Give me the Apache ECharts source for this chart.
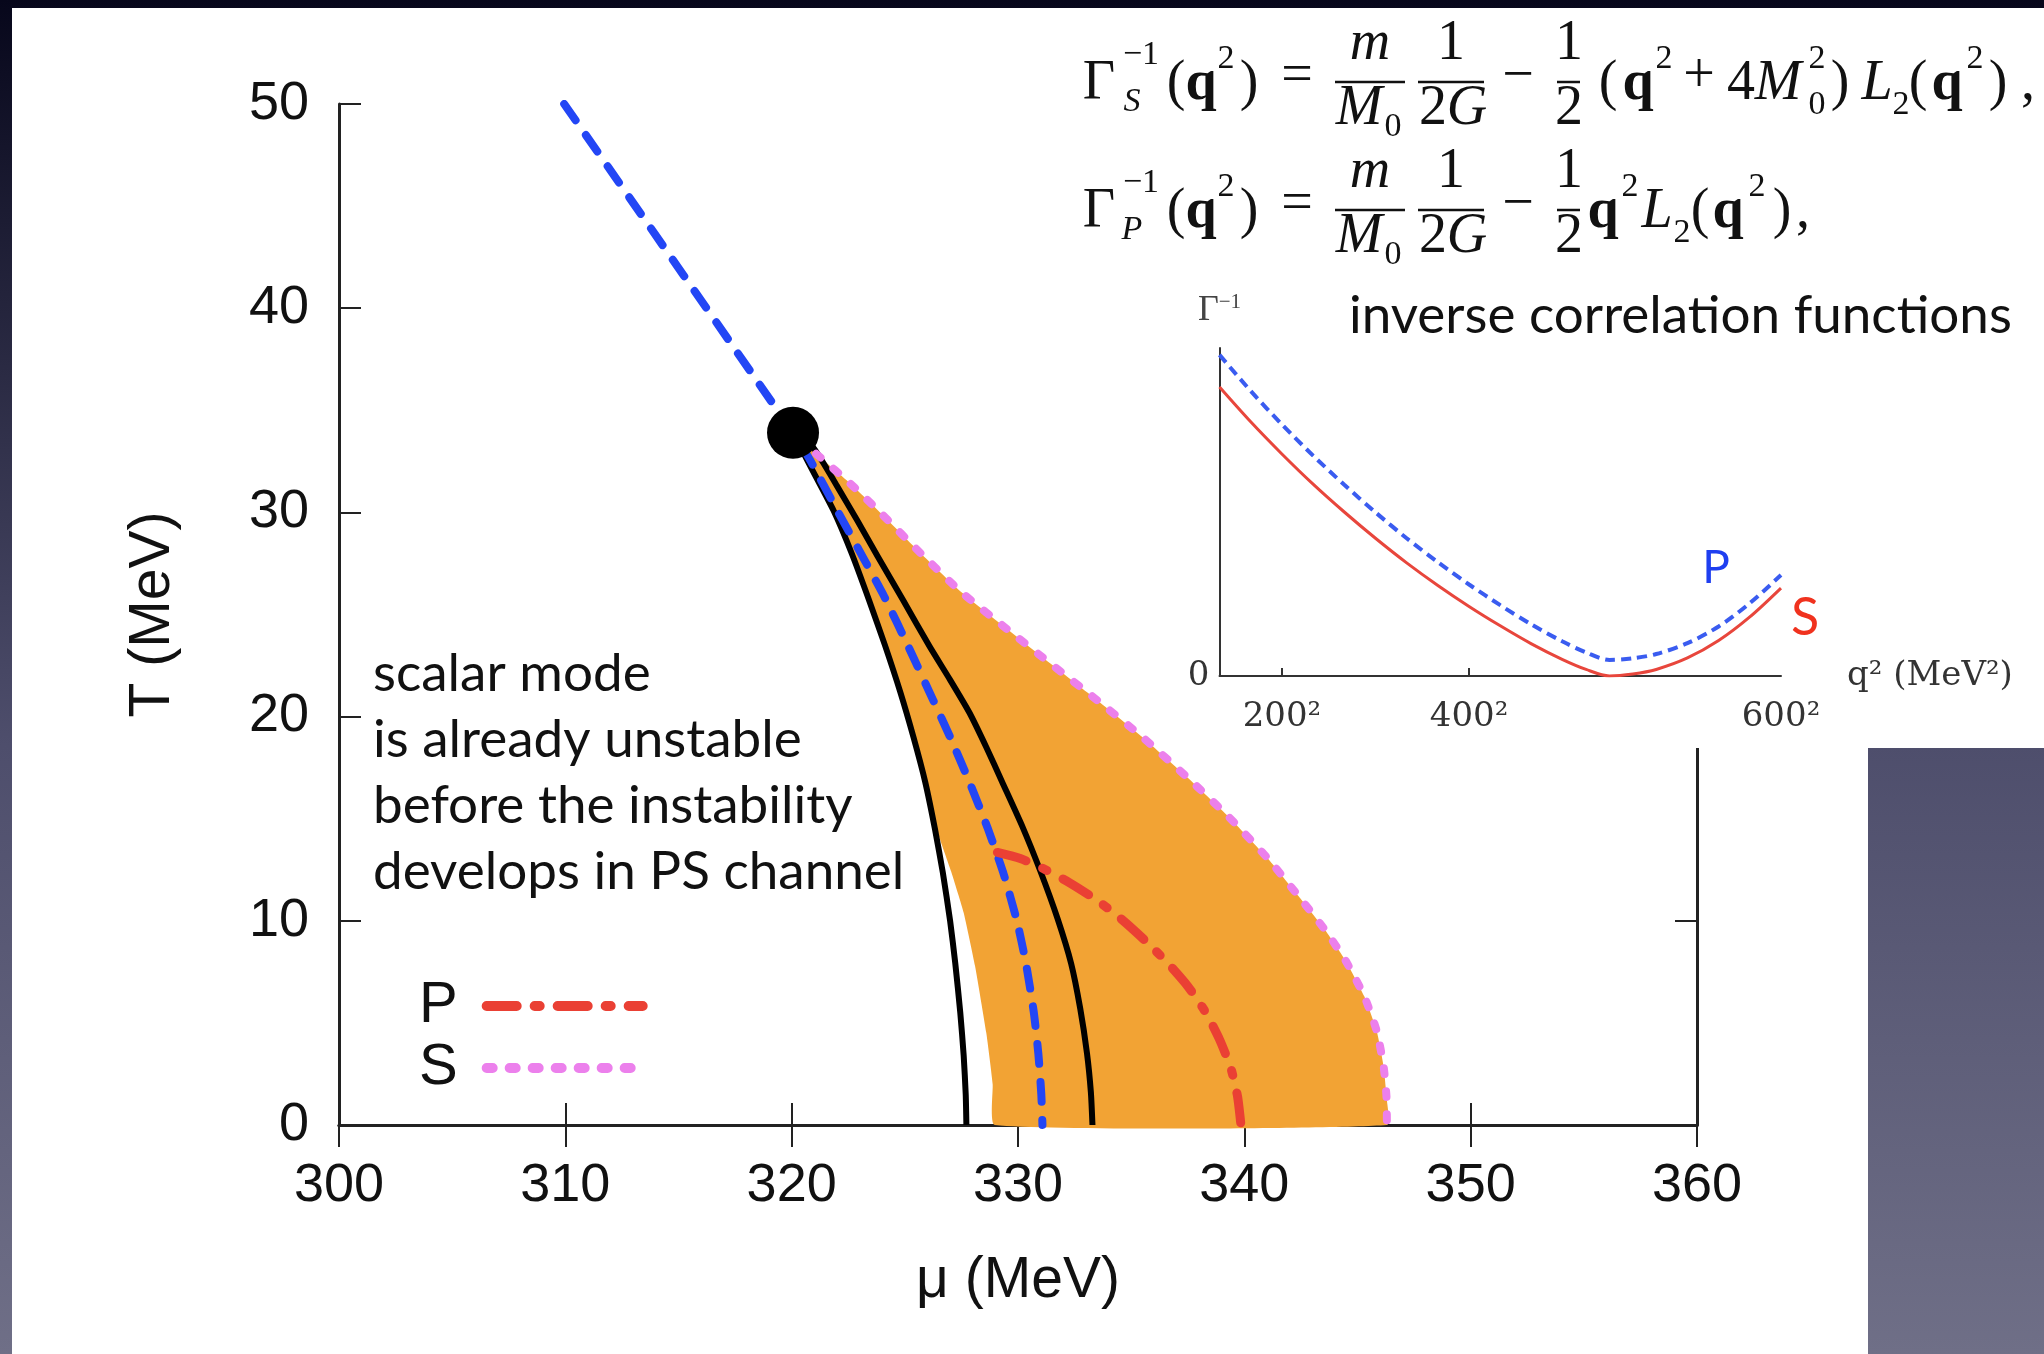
<!DOCTYPE html>
<html><head><meta charset="utf-8">
<script src="https://cdn.jsdelivr.net/npm/echarts@6/dist/echarts.min.js"></script>
<style>html,body{margin:0;padding:0;background:#fff;overflow:hidden}#c{width:2044px;height:1354px}</style>
</head><body><div id="c"></div>
<script>
// ---------- data (mu in MeV, T in MeV) ----------
const criticalPoint = [[320.06, 33.9]];
const blueLine = [[309.95,50],[320.06,33.9],[320.81,32.57],[322.0,30.12],[323.2,27.7],[324.1,25.86],[325.15,23.44],[326.25,20.81],[327.0,19.0],[327.85,16.8],[328.65,14.57],[329.35,12.35],[329.95,10.0],[330.35,7.92],[330.7,5.5],[330.9,3.48],[331.03,1.5],[331.08,0]];
const blackLeft = [[320.06,33.9],[320.95,32.0],[321.85,30.09],[322.65,28.0],[323.42,25.7],[324.12,23.5],[324.8,21.2],[325.38,19.0],[325.9,16.8],[326.33,14.5],[326.68,12.35],[327.0,10.0],[327.23,7.9],[327.45,5.5],[327.6,3.4],[327.69,1.5],[327.72,0]];
const blackRight = [[320.06,33.9],[320.94,33.2],[322.0,31.3],[322.9,29.6],[323.79,27.87],[324.92,25.71],[326.09,23.44],[327.0,21.8],[327.85,20.2],[328.6,18.5],[329.3,16.8],[330.2,14.6],[331.0,12.4],[331.75,10.1],[332.35,7.9],[332.75,5.7],[333.05,3.5],[333.22,1.6],[333.29,0]];
const pLine = [[329.09,13.35],[330.1,13.05],[331.09,12.57],[332.3,11.85],[333.5,11.0],[334.55,10.1],[335.6,9.05],[336.6,7.95],[337.5,6.8],[338.3,5.5],[338.9,4.2],[339.4,2.8],[339.7,1.4],[339.85,0]];
const sLine = [[320.3,33.6],[321.25,32.71],[322.6,31.4],[324.0,29.9],[325.7,28.0],[327.49,26.1],[329.5,24.3],[331.49,22.55],[333.5,20.8],[335.49,19.0],[337.5,17.0],[339.3,15.1],[341.0,13.1],[342.4,11.2],[343.6,9.5],[344.5,8.0],[345.3,6.3],[345.85,4.6],[346.15,2.9],[346.28,1.4],[346.3,0]];
const orangeLeftEdge = [[320.06,33.9],[320.95,32.0],[321.85,30.09],[322.65,28.0],[323.42,25.7],[324.12,23.5],[324.8,21.2],[325.38,19.0],[325.9,16.8],[326.18,15.5],[326.55,14.0],[327.05,12.4],[327.6,10.4],[328.1,7.8],[328.6,4.5],[328.88,2.0],[328.98,0]];

// inset: inverse correlation functions vs q^2 (arbitrary units)
const insetQ2 = [0,20000,40000,60000,80000,100000,120000,140000,160000,180000,200000,220000,235000,250000,265000,280000,300000,320000,340000,360000];
const insetS  = [0.881,0.775,0.677,0.585,0.500,0.420,0.345,0.276,0.212,0.153,0.098,0.050,0.020,0.0,0.006,0.020,0.055,0.108,0.180,0.268];
const insetP  = [0.979,0.869,0.767,0.672,0.583,0.499,0.420,0.347,0.279,0.216,0.157,0.105,0.072,0.049,0.054,0.067,0.100,0.151,0.222,0.308];
const insetTickValues = [40000,160000,360000];
const insetTickLabels = ['200²','400²','600²'];

const xTickInterval = 10, yTickInterval = 10;

// ---------- chart ----------
const chart = echarts.init(document.getElementById('c'), null, {renderer:'canvas'});
const zip = (a,b)=>a.map((v,i)=>[v,b[i]]);
const SERIF = 'Liberation Serif';
const SANS = 'Liberation Sans';
const HUM = 'Lato';

function txt(s, cx, bl, size, o) {
  o = o || {};
  return {type:'text', x:cx, y:bl - 0.33*size, z:70, silent:true,
    style:{text:s, fontSize:size, fontFamily:o.family||SERIF, fontStyle:o.italic?'italic':'normal',
      fontWeight:o.bold?'bold':'normal', fill:o.color||'#111',
      align:o.align||'center', textAlign:o.align||'center', verticalAlign:'middle', textVerticalAlign:'middle'}};
}
function bar(x1,x2,y){return {type:'line', z:70, silent:true, shape:{x1:x1,y1:y,x2:x2,y2:y}, style:{stroke:'#111', lineWidth:2.5}};}

const g = [];
// background (slide)
g.push({type:'rect', z:0, silent:true, shape:{x:0,y:0,width:2044,height:1354},
  style:{fill:new echarts.graphic.LinearGradient(0,0,0,1,[{offset:0,color:'#07071b'},{offset:0.55,color:'#4e4e6c'},{offset:1,color:'#6f6f87'}])}});
g.push({type:'rect', z:1, silent:true, shape:{x:12,y:8,width:2032,height:740}, style:{fill:'#fff'}});
g.push({type:'rect', z:1, silent:true, shape:{x:12,y:747,width:1856,height:607}, style:{fill:'#fff'}});
// white masks (formula / inset panel over the frame)
g.push({type:'rect', z:50, silent:true, shape:{x:1030,y:8,width:1014,height:264}, style:{fill:'#fff'}});
g.push({type:'rect', z:50, silent:true, shape:{x:1170,y:270,width:698,height:478}, style:{fill:'#fff'}});
g.push({type:'rect', z:50, silent:true, shape:{x:1868,y:270,width:176,height:477}, style:{fill:'#fff'}});

// formulas
[[0,'S'],[128,'P']].forEach(([d,sub])=>{
  g.push(txt('Γ',1099,103+d,56));
  g.push(txt('−1',1141,66+d,34));
  g.push(txt(sub,1132,113+d,34,{italic:true}));
  g.push(txt('(',1176,103+d,56));
  g.push(txt('q',1201,103+d,56,{bold:true}));
  g.push(txt('2',1226,70+d,34));
  g.push(txt(')',1249,103+d,56));
  g.push(txt('=',1297,96+d,56));
  g.push(txt('m',1370,63+d,56,{italic:true}));
  g.push(bar(1335,1405,82+d));
  g.push(txt('M',1359,128+d,56,{italic:true}));
  g.push(txt('0',1393,138+d,34));
  g.push(txt('1',1451,63+d,56));
  g.push(bar(1418,1484,82+d));
  g.push(txt('2',1433,128+d,56));
  g.push(txt('G',1467,128+d,56,{italic:true}));
  g.push(txt('−',1518,96+d,56));
  g.push(txt('1',1569,63+d,56));
  g.push(bar(1557,1580,82+d));
  g.push(txt('2',1569,128+d,56));
});
// rest of line 1
[['(',1608,103,56],['q',1638,103,56,{bold:true}],['2',1664,70,34],['+',1699,96,56],['4',1741,103,56],
 ['M',1778,103,56,{italic:true}],['2',1817,70,34],['0',1817,116,34],[')',1840,103,56],
 ['L',1877,103,56,{italic:true}],['2',1901,116,34],['(',1918,103,56],['q',1947,103,56,{bold:true}],
 ['2',1975,70,34],[')',1998,103,56],[',',2028,103,56]].forEach(a=>g.push(txt(a[0],a[1],a[2],a[3],a[4])));
// rest of line 2
[['q',1603,231,56,{bold:true}],['2',1630,198,34],['L',1657,231,56,{italic:true}],['2',1682,244,34],
 ['(',1700,231,56],['q',1728,231,56,{bold:true}],['2',1757,198,34],[')',1782,231,56],[',',1803,231,56]].forEach(a=>g.push(txt(a[0],a[1],a[2],a[3],a[4])));

// annotations
g.push(txt('inverse correlation functions',1349,333,53,{family:HUM,align:'left'}));
['scalar mode','is already unstable','before the instability','develops in PS channel'].forEach((s,i)=>{
  g.push(txt(s,373,691+66*i,53,{family:HUM,align:'left'}));
});
g.push(txt('P',1716,583,46,{family:HUM,color:'#1f3ff0'}));
g.push(txt('S',1805,635,52,{family:HUM,color:'#f0321e'}));

const axisLineStyle = {color:'#222', width:3};
const tickStyle = {color:'#222', width:2};
const labelStyle = {fontSize:54, fontFamily:SANS, color:'#111'};

const option = {
  backgroundColor:'#fff',
  animation:false,
  graphic:{elements:g},
  grid:[
    {left:339, top:104, width:1358, height:1021, containLabel:false},
    {left:1219.5, top:348, width:561.5, height:328, containLabel:false}
  ],
  legend:{
    data:['P','S'], orient:'vertical', left:414, top:972, align:'right',
    itemWidth:156, itemHeight:20, itemGap:4, selectedMode:false,
    textStyle:{fontSize:58, fontFamily:SANS, color:'#111', padding:[0,24,0,0]},
    itemStyle:{opacity:0},
    lineStyle:{width:10, cap:'round'}
  },
  xAxis:[
    {gridIndex:0, type:'value', min:300, max:360, interval:xTickInterval, position:'bottom', z:5,
     axisLine:{show:true, lineStyle:axisLineStyle}, axisTick:{show:true, inside:true, length:22, lineStyle:tickStyle},
     axisLabel:Object.assign({margin:34}, labelStyle), splitLine:{show:false},
     name:'μ (MeV)', nameLocation:'middle', nameGap:128, nameTextStyle:{fontSize:57, fontFamily:SANS, color:'#111'}},
    {gridIndex:0, type:'value', min:300, max:360, interval:xTickInterval, position:'top', z:5,
     axisLine:{show:true, lineStyle:axisLineStyle}, axisTick:{show:true, inside:true, length:22, lineStyle:tickStyle},
     axisLabel:{show:false}, splitLine:{show:false}},
    {gridIndex:1, type:'value', min:0, max:360000, z:60,
     axisLine:{show:true, onZero:false, lineStyle:{color:'#333', width:2}},
     axisTick:{show:true, inside:true, length:8, customValues:[40000,160000], lineStyle:{color:'#333',width:2}},
     axisLabel:{customValues:insetTickValues, formatter:(v)=>insetTickLabels[insetTickValues.indexOf(v)] || '',
       fontSize:34, fontFamily:'DejaVu Serif', color:'#333', margin:24},
     splitLine:{show:false},
     name:'q² (MeV²)', nameLocation:'end', nameGap:66,
     nameTextStyle:{fontSize:34, fontFamily:'DejaVu Serif', color:'#333', padding:[34,0,0,0]}}
  ],
  yAxis:[
    {gridIndex:0, type:'value', min:0, max:50, interval:yTickInterval, position:'left', z:5,
     axisLine:{show:true, lineStyle:axisLineStyle}, axisTick:{show:true, inside:true, length:22, lineStyle:tickStyle},
     axisLabel:Object.assign({margin:30}, labelStyle), splitLine:{show:false},
     name:'T (MeV)', nameLocation:'middle', nameGap:157, nameRotate:90,
     nameTextStyle:{fontSize:57, fontFamily:SANS, color:'#111'}},
    {gridIndex:0, type:'value', min:0, max:50, interval:yTickInterval, position:'right', z:5,
     axisLine:{show:true, lineStyle:axisLineStyle}, axisTick:{show:true, inside:true, length:22, lineStyle:tickStyle},
     axisLabel:{show:false}, splitLine:{show:false}},
    {gridIndex:1, type:'value', min:0, max:1, z:60,
     axisLine:{show:true, onZero:false, lineStyle:{color:'#333', width:2}},
     axisTick:{show:false},
     axisLabel:{customValues:[0], fontSize:34, fontFamily:'DejaVu Serif', color:'#333', margin:10, padding:[10,0,0,0]},
     splitLine:{show:false},
     name:'{a|Γ}{b|−1}', nameLocation:'end', nameGap:18,
     nameTextStyle:{color:'#444', rich:{a:{fontSize:36, fontFamily:SERIF, color:'#444', lineHeight:38},
                                        b:{fontSize:21, fontFamily:SERIF, color:'#444', lineHeight:21, verticalAlign:'top'}}}}
  ],
  series:[
    {type:'custom', name:'unstable region', xAxisIndex:0, yAxisIndex:0, z:8, silent:true,
     data:[[320,30]],
     renderItem:(params, api)=>{
       const pts = orangeLeftEdge.concat(sLine.slice().reverse()).map(p=>api.coord(p));
       return {type:'polygon', shape:{points:pts, smooth:0.15}, style:{fill:'#f2a334'}};
     }},
    {type:'line', name:'bl', xAxisIndex:0, yAxisIndex:0, z:10, data:blackLeft, symbol:'none', smooth:0.2,
     lineStyle:{color:'#000', width:6, join:'round'}},
    {type:'line', name:'br', xAxisIndex:0, yAxisIndex:0, z:10, data:blackRight, symbol:'none', smooth:0.2,
     lineStyle:{color:'#000', width:6, join:'round'}},
    {type:'line', name:'PS', xAxisIndex:0, yAxisIndex:0, z:11, data:blueLine, symbol:'none', smooth:0.2,
     lineStyle:{color:'#2346f5', width:8, type:[20,18], cap:'round'}},
    {type:'line', name:'P', xAxisIndex:0, yAxisIndex:0, z:12, data:pLine, symbol:'none', smooth:0.2,
     lineStyle:{color:'#ea4034', width:9, type:[30,18,5,18], cap:'round'}},
    {type:'line', name:'S', xAxisIndex:0, yAxisIndex:0, z:12, data:sLine, symbol:'none', smooth:0.2,
     lineStyle:{color:'#ec80ec', width:8, type:[6,17], cap:'round'}},
    {type:'scatter', name:'CP', xAxisIndex:0, yAxisIndex:0, z:20, data:criticalPoint, symbol:'circle', symbolSize:52,
     itemStyle:{color:'#000', opacity:1}},
    {type:'line', name:'insetS', xAxisIndex:2, yAxisIndex:2, z:61, data:zip(insetQ2,insetS), symbol:'none', smooth:0.3,
     lineStyle:{color:'#e8463c', width:3}},
    {type:'line', name:'insetP', xAxisIndex:2, yAxisIndex:2, z:61, data:zip(insetQ2,insetP), symbol:'none', smooth:0.3,
     lineStyle:{color:'#3a5cf0', width:4, type:[10,6]}}
  ]
};
chart.setOption(option);
</script></body></html>
